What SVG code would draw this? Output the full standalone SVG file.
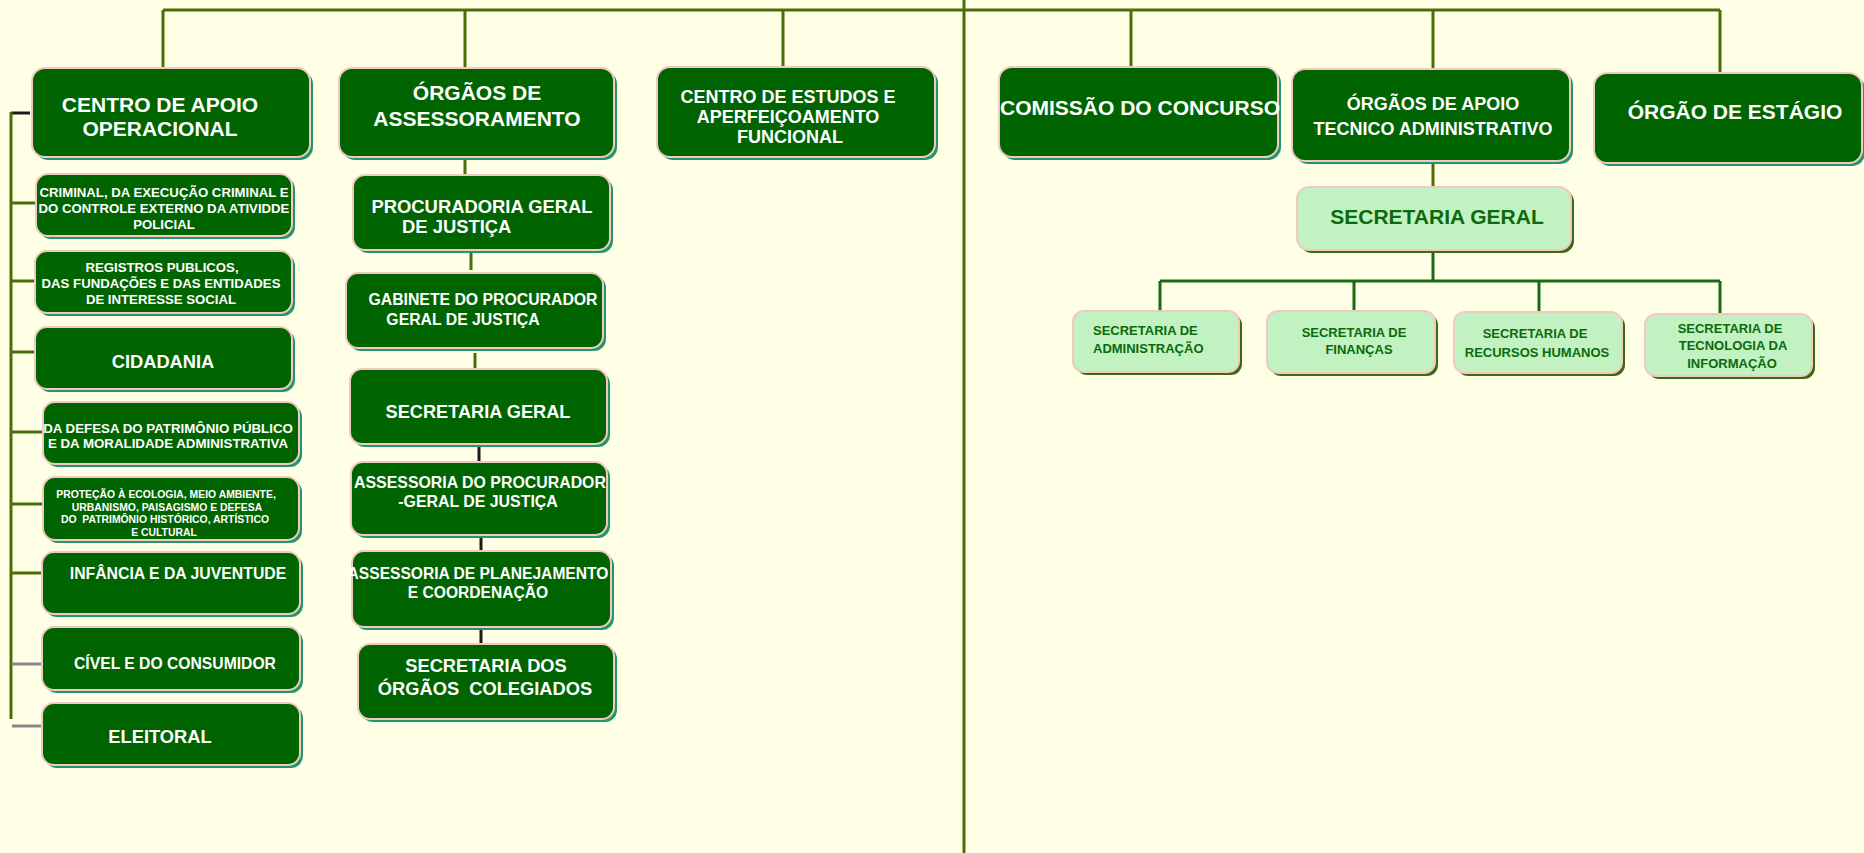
<svg xmlns="http://www.w3.org/2000/svg" width="1864" height="853" viewBox="0 0 1864 853">
<style>
.sh{fill:#22966A}
.bx{fill:#006400;stroke:#F2C8C2;stroke-width:2}
.lsh{fill:#3A6A12}
.lbx{fill:#C2F2C2;stroke:#F2C8C2;stroke-width:2}
text{font-family:"Liberation Sans",Arial,sans-serif;font-weight:bold;white-space:pre}
.t{fill:#FFFFFF;text-anchor:middle}
.ts{fill:#FFFFFF;text-anchor:start}
.d{fill:#0B6A0B;text-anchor:middle}
.ds{fill:#0B6A0B;text-anchor:start}
.ol{stroke:#4A6E0A;stroke-width:3;fill:none}
.bk{stroke:#1A1A1A;stroke-width:3;fill:none}
.gr{stroke:#888888;stroke-width:3;fill:none}
.gn{stroke:#1A6A14;stroke-width:3;fill:none}
</style>
<rect x="0" y="0" width="1864" height="853" fill="#FFFFE6"/>

<g id="connectors">
  <path class="ol" d="M163 10 H1720"/>
  <path class="ol" d="M964 0 V853"/>
  <path class="ol" d="M163 10 V68 M465 10 V68 M783 10 V67 M1131 10 V67 M1433 10 V69 M1720 10 V72"/>
  <path class="bk" d="M11 113 H30"/>
  <path class="ol" d="M11 112 V719"/>
  <path class="ol" d="M11 203 H36 M11 281 H36 M11 352 H36 M11 432 H43 M11 504 H43 M11 573 H42"/>
  <path class="gr" d="M12 664 H42 M12 726 H42"/>
  <path class="ol" d="M465 157 V174"/>
  <path class="ol" d="M471 253 V270"/>
  <path class="ol" d="M475 353 V370"/>
  <path class="bk" d="M479 446 V462 M481 537 V552 M481 629 V645"/>
  <path class="ol" d="M1433 161 V188"/>
  <path class="gn" d="M1433 250 V281 M1160 281 H1720 M1160 281 V311 M1354 281 V311 M1539 281 V312 M1720 281 V314"/>
</g>

<g id="centro-apoio">
  <rect class="sh" x="35" y="71" width="278" height="89" rx="13"/>
  <rect class="bx" x="32" y="68" width="278" height="89" rx="13"/>
  <text class="t" x="160" y="112" font-size="21">CENTRO DE APOIO</text>
  <text class="t" x="160" y="136" font-size="21">OPERACIONAL</text>
</g>
<g id="orgaos-assessoramento">
  <rect class="sh" x="342" y="71" width="275" height="89" rx="13"/>
  <rect class="bx" x="339" y="68" width="275" height="89" rx="13"/>
  <text class="t" x="477" y="100" font-size="21">ÓRGÃOS DE</text>
  <text class="t" x="477" y="126" font-size="21">ASSESSORAMENTO</text>
</g>
<g id="centro-estudos">
  <rect class="sh" x="660" y="70" width="278" height="90" rx="13"/>
  <rect class="bx" x="657" y="67" width="278" height="90" rx="13"/>
  <text class="t" x="788" y="103" font-size="18">CENTRO DE ESTUDOS E</text>
  <text class="t" x="788" y="123" font-size="18">APERFEIÇOAMENTO</text>
  <text class="t" x="790" y="143" font-size="18">FUNCIONAL</text>
</g>
<g id="comissao-concurso">
  <rect class="sh" x="1002" y="70" width="279" height="90" rx="13"/>
  <rect class="bx" x="999" y="67" width="279" height="90" rx="13"/>
  <text class="t" x="1140" y="115" font-size="21">COMISSÃO DO CONCURSO</text>
</g>
<g id="orgaos-apoio">
  <rect class="sh" x="1295" y="72" width="278" height="92" rx="13"/>
  <rect class="bx" x="1292" y="69" width="278" height="92" rx="13"/>
  <text class="t" x="1433" y="110" font-size="18">ÓRGÃOS DE APOIO</text>
  <text class="t" x="1433" y="135" font-size="18">TECNICO ADMINISTRATIVO</text>
</g>
<g id="orgao-estagio">
  <rect class="sh" x="1597" y="76" width="268" height="90" rx="13"/>
  <rect class="bx" x="1594" y="73" width="268" height="90" rx="13"/>
  <text class="t" x="1735" y="119" font-size="21">ÓRGÃO DE ESTÁGIO</text>
</g>

<g id="criminal">
  <rect class="sh" x="39" y="177" width="256" height="62" rx="12"/>
  <rect class="bx" x="36" y="174" width="256" height="62" rx="12"/>
  <text class="t" x="164" y="197" font-size="13.2">CRIMINAL, DA EXECUÇÃO CRIMINAL E</text>
  <text class="t" x="164" y="213" font-size="13.2">DO CONTROLE EXTERNO DA ATIVIDDE</text>
  <text class="t" x="164" y="229" font-size="13.2">POLICIAL</text>
</g>
<g id="registros">
  <rect class="sh" x="38" y="254" width="257" height="62" rx="12"/>
  <rect class="bx" x="35" y="251" width="257" height="62" rx="12"/>
  <text class="t" x="162" y="272" font-size="13.2">REGISTROS PUBLICOS,</text>
  <text class="t" x="161" y="288" font-size="13.2">DAS FUNDAÇÕES E DAS ENTIDADES</text>
  <text class="t" x="161" y="304" font-size="13.2">DE INTERESSE SOCIAL</text>
</g>
<g id="cidadania">
  <rect class="sh" x="38" y="330" width="257" height="62" rx="12"/>
  <rect class="bx" x="35" y="327" width="257" height="62" rx="12"/>
  <text class="t" x="163" y="368" font-size="18.3">CIDADANIA</text>
</g>
<g id="patrimonio-publico">
  <rect class="sh" x="46" y="405" width="256" height="62" rx="12"/>
  <rect class="bx" x="43" y="402" width="256" height="62" rx="12"/>
  <text class="t" x="168" y="433" font-size="13.3">DA DEFESA DO PATRIMÔNIO PÚBLICO</text>
  <text class="t" x="168" y="448" font-size="13.3">E DA MORALIDADE ADMINISTRATIVA</text>
</g>
<g id="ecologia">
  <rect class="sh" x="46" y="480" width="256" height="63" rx="12"/>
  <rect class="bx" x="43" y="477" width="256" height="63" rx="12"/>
  <text class="t" x="166" y="498" font-size="10.4">PROTEÇÃO À ECOLOGIA, MEIO AMBIENTE,</text>
  <text class="t" x="167" y="511" font-size="10.4">URBANISMO, PAISAGISMO E DEFESA</text>
  <text class="t" x="165" y="523" font-size="10.4">DO  PATRIMÔNIO HISTÓRICO, ARTÍSTICO</text>
  <text class="t" x="164" y="536" font-size="10.4">E CULTURAL</text>
</g>
<g id="infancia">
  <rect class="sh" x="45" y="555" width="258" height="62" rx="12"/>
  <rect class="bx" x="42" y="552" width="258" height="62" rx="12"/>
  <text class="t" x="178" y="579" font-size="15.8">INFÂNCIA E DA JUVENTUDE</text>
</g>
<g id="civel">
  <rect class="sh" x="45" y="630" width="258" height="63" rx="12"/>
  <rect class="bx" x="42" y="627" width="258" height="63" rx="12"/>
  <text class="t" x="175" y="669" font-size="15.7">CÍVEL E DO CONSUMIDOR</text>
</g>
<g id="eleitoral">
  <rect class="sh" x="45" y="706" width="258" height="62" rx="12"/>
  <rect class="bx" x="42" y="703" width="258" height="62" rx="12"/>
  <text class="t" x="160" y="743" font-size="18.3">ELEITORAL</text>
</g>

<g id="procuradoria-geral">
  <rect class="sh" x="356" y="178" width="257" height="75" rx="12"/>
  <rect class="bx" x="353" y="175" width="257" height="75" rx="12"/>
  <text class="t" x="482" y="213" font-size="18.4">PROCURADORIA GERAL</text>
  <text class="ts" x="402" y="233" font-size="18.4">DE JUSTIÇA</text>
</g>
<g id="gabinete">
  <rect class="sh" x="349" y="276" width="257" height="75" rx="12"/>
  <rect class="bx" x="346" y="273" width="257" height="75" rx="12"/>
  <text class="t" x="483" y="305" font-size="15.8">GABINETE DO PROCURADOR</text>
  <text class="t" x="463" y="325" font-size="15.8">GERAL DE JUSTIÇA</text>
</g>
<g id="secretaria-geral-mp">
  <rect class="sh" x="353" y="372" width="257" height="75" rx="12"/>
  <rect class="bx" x="350" y="369" width="257" height="75" rx="12"/>
  <text class="t" x="478" y="418" font-size="18.2">SECRETARIA GERAL</text>
</g>
<g id="assessoria-procurador">
  <rect class="sh" x="354" y="465" width="256" height="73" rx="12"/>
  <rect class="bx" x="351" y="462" width="256" height="73" rx="12"/>
  <text class="t" x="480" y="488" font-size="15.9">ASSESSORIA DO PROCURADOR</text>
  <text class="t" x="478" y="507" font-size="15.9">-GERAL DE JUSTIÇA</text>
</g>
<g id="assessoria-planejamento">
  <rect class="sh" x="355" y="554" width="259" height="76" rx="12"/>
  <rect class="bx" x="352" y="551" width="259" height="76" rx="12"/>
  <text class="t" x="478" y="579" font-size="15.6">ASSESSORIA DE PLANEJAMENTO</text>
  <text class="t" x="478" y="598" font-size="15.6">E COORDENAÇÃO</text>
</g>
<g id="secretaria-colegiados">
  <rect class="sh" x="361" y="647" width="256" height="75" rx="12"/>
  <rect class="bx" x="358" y="644" width="256" height="75" rx="12"/>
  <text class="t" x="486" y="672" font-size="18.3">SECRETARIA DOS</text>
  <text class="t" x="485" y="695" font-size="18.3">ÓRGÃOS  COLEGIADOS</text>
</g>

<g id="secretaria-geral-apoio">
  <rect class="lsh" x="1300" y="190" width="274" height="63" rx="12"/>
  <rect class="lbx" x="1297" y="187" width="274" height="63" rx="12"/>
  <text class="d" x="1437" y="224" font-size="21">SECRETARIA GERAL</text>
</g>
<g id="sec-administracao">
  <rect class="lsh" x="1076" y="314" width="166" height="61" rx="11"/>
  <rect class="lbx" x="1073" y="311" width="166" height="61" rx="11"/>
  <text class="ds" x="1093" y="335" font-size="13">SECRETARIA DE</text>
  <text class="ds" x="1093" y="353" font-size="13">ADMINISTRAÇÃO</text>
</g>
<g id="sec-financas">
  <rect class="lsh" x="1270" y="314" width="168" height="62" rx="11"/>
  <rect class="lbx" x="1267" y="311" width="168" height="62" rx="11"/>
  <text class="d" x="1354" y="337" font-size="13">SECRETARIA DE</text>
  <text class="d" x="1359" y="354" font-size="13">FINANÇAS</text>
</g>
<g id="sec-rh">
  <rect class="lsh" x="1457" y="315" width="168" height="61" rx="11"/>
  <rect class="lbx" x="1454" y="312" width="168" height="61" rx="11"/>
  <text class="d" x="1535" y="338" font-size="13">SECRETARIA DE</text>
  <text class="d" x="1537" y="357" font-size="13">RECURSOS HUMANOS</text>
</g>
<g id="sec-ti">
  <rect class="lsh" x="1648" y="317" width="167" height="62" rx="11"/>
  <rect class="lbx" x="1645" y="314" width="167" height="62" rx="11"/>
  <text class="d" x="1730" y="333" font-size="13">SECRETARIA DE</text>
  <text class="d" x="1733" y="350" font-size="13">TECNOLOGIA DA</text>
  <text class="d" x="1732" y="368" font-size="13">INFORMAÇÃO</text>
</g>
</svg>
